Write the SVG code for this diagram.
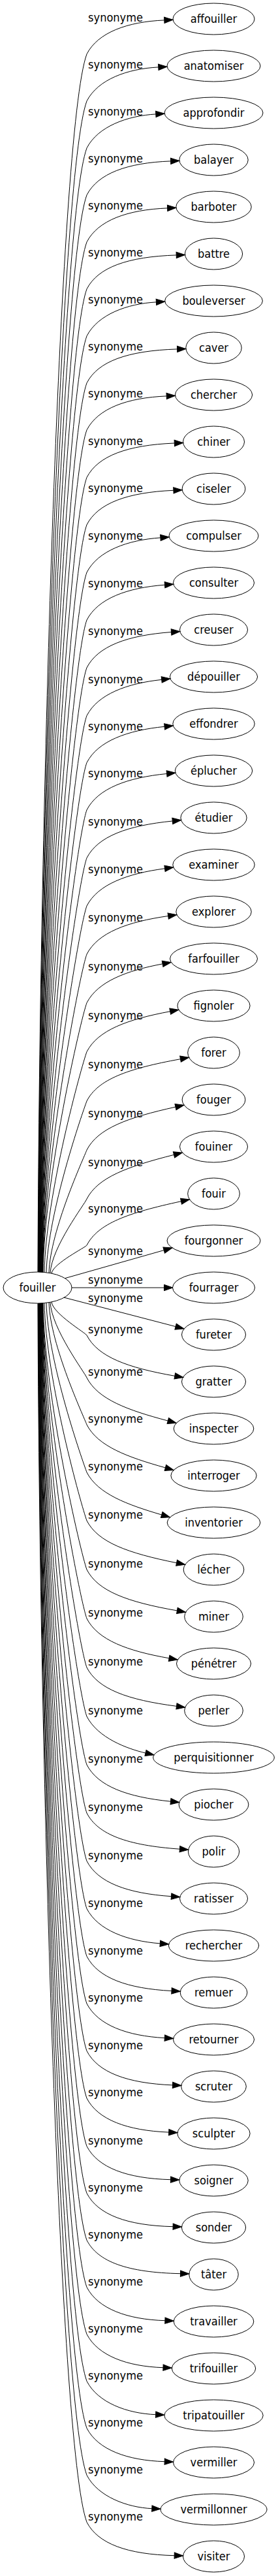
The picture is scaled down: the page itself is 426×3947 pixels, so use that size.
<svg xmlns="http://www.w3.org/2000/svg" width="426" height="3947" viewBox="0 0 426 3947">
<style>
.n ellipse{fill:none;stroke:#000;stroke-width:1}
.n text,.e text{font-family:"DejaVu Sans Condensed","DejaVu Sans",sans-serif;font-stretch:condensed;font-size:18px;fill:#000;text-anchor:middle}
.e path{fill:none;stroke:#000;stroke-width:1;marker-end:url(#arr)}
</style>
<defs>
<marker id="arr" markerUnits="userSpaceOnUse" markerWidth="14" markerHeight="10" viewBox="0 -5 14 10" refX="0" refY="0" orient="auto" overflow="visible">
<path d="M0,-4.67L13.3,0L0,4.67Z" fill="#000" stroke="#000" stroke-width="1"/>
</marker>
</defs>
<rect width="426" height="3947" fill="#fff"/>
<g id="connectors">
<g class="e"><path d="M58,1949C60,1295.8 90,199.9 133,82.8C150,49.8 195,33.3 251.8,30.9"/><text x="177" y="32.8">synonyme</text></g>
<g class="e"><path d="M58.4,1949C60.4,1321 91.6,267.4 133,154.8C150,121.8 195,105.3 242.8,102.9"/><text x="177" y="104.8">synonyme</text></g>
<g class="e"><path d="M58.8,1949C60.8,1346.2 93.3,334.8 133,226.8C150,193.8 195,177.3 238.8,174.9"/><text x="177" y="176.8">synonyme</text></g>
<g class="e"><path d="M59.2,1949C61.2,1371.4 95,402.3 133,298.8C150,265.8 195,249.3 261.6,246.9"/><text x="177" y="248.8">synonyme</text></g>
<g class="e"><path d="M59.6,1949C61.6,1396.6 96.6,469.8 133,370.8C150,337.8 195,321.3 256.6,318.9"/><text x="177" y="320.8">synonyme</text></g>
<g class="e"><path d="M60,1949C62,1421.8 98.3,537.3 133,442.8C150,409.8 195,393.3 270.2,390.9"/><text x="177" y="392.8">synonyme</text></g>
<g class="e"><path d="M60.4,1949C62.4,1447 99.9,604.8 133,514.8C150,481.8 195,465.3 239.4,462.9"/><text x="177" y="464.8">synonyme</text></g>
<g class="e"><path d="M60.8,1949.1C62.8,1472.2 101.6,672.3 133,586.8C150,553.8 195,537.3 271.6,534.9"/><text x="177" y="536.8">synonyme</text></g>
<g class="e"><path d="M61.2,1949.1C63.2,1497.4 103.3,739.7 133,658.8C150,625.8 195,609.3 255.2,606.9"/><text x="177" y="608.8">synonyme</text></g>
<g class="e"><path d="M61.6,1949.1C63.6,1522.9 104.9,807.9 133,731.5C150,698.5 195,682 267.3,679"/><text x="177" y="681.5">synonyme</text></g>
<g class="e"><path d="M62,1949.1C64,1548.3 106.6,875.8 133,804C150,771 195,754.5 265.9,751.3"/><text x="177" y="754">synonyme</text></g>
<g class="e"><path d="M62.4,1949.1C64.4,1573.9 108.3,944.3 133,877C150,844 195,827.5 245.9,823.9"/><text x="177" y="827">synonyme</text></g>
<g class="e"><path d="M62.8,1949.1C64.8,1599.4 110,1012.7 133,950C150,917 195,900.5 252.5,896.2"/><text x="177" y="900">synonyme</text></g>
<g class="e"><path d="M63.2,1949.1C65.2,1625 111.6,1081.1 133,1023C150,990 195,973.5 262.5,968.5"/><text x="177" y="973">synonyme</text></g>
<g class="e"><path d="M63.6,1949.2C65.6,1650.8 113.3,1150 133,1096.5C150,1063.5 195,1047 247.7,1041.4"/><text x="177" y="1046.5">synonyme</text></g>
<g class="e"><path d="M64,1949.2C66,1676 115,1217.5 133,1168.5C150,1135.5 195,1119 252.1,1113.3"/><text x="177" y="1118.5">synonyme</text></g>
<g class="e"><path d="M64.4,1949.2C66.4,1701.3 116.7,1285.4 133,1241C150,1208 195,1191.5 255.6,1185.5"/><text x="177" y="1191">synonyme</text></g>
<g class="e"><path d="M64.8,1949.2C66.8,1727.1 118.4,1354.3 133,1314.5C150,1281.5 195,1265 264.3,1258"/><text x="177" y="1264.5">synonyme</text></g>
<g class="e"><path d="M65.2,1949.3C67.2,1752.8 120.1,1423.2 133,1388C150,1355 195,1338.5 252.5,1330.8"/><text x="177" y="1338">synonyme</text></g>
<g class="e"><path d="M65.6,1949.3C67.6,1778.7 121.8,1492.6 133,1462C150,1429 195,1412.5 257.7,1403.5"/><text x="177" y="1412">synonyme</text></g>
<g class="e"><path d="M66,1949.3C68,1804.8 123.5,1562.4 133,1536.5C150,1503.5 195,1487 249.1,1476.9"/><text x="177" y="1486.5">synonyme</text></g>
<g class="e"><path d="M68,1949.5C70,1831.2 125.2,1632.7 133,1611.5C150,1578.5 195,1562 260.7,1549.7"/><text x="177" y="1561.5">synonyme</text></g>
<g class="e"><path d="M71,1949.8C73,1857.8 126.9,1703.5 133,1687C150,1654 195,1637.5 276.5,1622.7"/><text x="177" y="1637">synonyme</text></g>
<g class="e"><path d="M75,1950.4C77,1884.5 128.7,1773.8 133,1762C150,1729 195,1712.5 269,1696.1"/><text x="177" y="1712">synonyme</text></g>
<g class="e"><path d="M77,1950.7C79,1910.9 130.4,1844.1 133,1837C150,1804 195,1787.5 266.5,1769.4"/><text x="177" y="1787">synonyme</text></g>
<g class="e"><path d="M79,1951.1C81,1936 132,1910.7 133,1908C150,1875 195,1858.5 277.5,1840.7"/><text x="177" y="1858">synonyme</text></g>
<g class="e"><path d="M100,1958.5L251.2,1915.6"/><text x="177" y="1923">synonyme</text></g>
<g class="e"><path d="M110,1973L251.5,1973"/><text x="177" y="1967">synonyme</text></g>
<g class="e"><path d="M98,1988L269.1,2032.6"/><text x="177" y="1995">synonyme</text></g>
<g class="e"><path d="M79,1994.9C81,2012.8 131.8,2042.8 133,2046C150,2079 195,2095.5 267.8,2108.3"/><text x="177" y="2043">synonyme</text></g>
<g class="e"><path d="M77,1995.3C79,2035.8 130.3,2103.7 133,2111C150,2144 195,2160.5 257.3,2177"/><text x="177" y="2108">synonyme</text></g>
<g class="e"><path d="M75,1995.6C77,2061.2 128.7,2171.2 133,2183C150,2216 195,2232.5 253.4,2248.9"/><text x="177" y="2180">synonyme</text></g>
<g class="e"><path d="M71,1996.2C73,2087.1 127,2239.7 133,2256C150,2289 195,2305.5 247.7,2321"/><text x="177" y="2253">synonyme</text></g>
<g class="e"><path d="M68,1996.5C70,2113.2 125.3,2309.1 133,2330C150,2363 195,2379.5 270.6,2394.7"/><text x="177" y="2327">synonyme</text></g>
<g class="e"><path d="M66,1996.7C68,2139.6 123.6,2379.4 133,2405C150,2438 195,2454.5 271.4,2467.9"/><text x="177" y="2402">synonyme</text></g>
<g class="e"><path d="M65.6,1996.7C67.6,2165.9 121.9,2449.7 133,2480C150,2513 195,2529.5 259.1,2540.8"/><text x="177" y="2477">synonyme</text></g>
<g class="e"><path d="M65.2,1996.7C67.2,2192.1 120.1,2520 133,2555C150,2588 195,2604.5 270.5,2614.3"/><text x="177" y="2552">synonyme</text></g>
<g class="e"><path d="M64.8,1996.8C66.8,2218.4 118.4,2590.3 133,2630C150,2663 195,2679.5 223,2686"/><text x="177" y="2627">synonyme</text></g>
<g class="e"><path d="M64.4,1996.8C66.4,2244.3 116.7,2659.6 133,2704C150,2737 195,2753.5 261.5,2760.2"/><text x="177" y="2701">synonyme</text></g>
<g class="e"><path d="M64,1996.8C66,2270.2 115,2729 133,2778C150,2811 195,2827.5 275.4,2833.2"/><text x="177" y="2775">synonyme</text></g>
<g class="e"><path d="M63.6,1996.8C65.6,2295.9 113.3,2797.9 133,2851.5C150,2884.5 195,2901 262.5,2905.7"/><text x="177" y="2848.5">synonyme</text></g>
<g class="e"><path d="M63.2,1996.9C65.2,2321.6 111.6,2866.3 133,2924.5C150,2957.5 195,2974 245.3,2977.9"/><text x="177" y="2921.5">synonyme</text></g>
<g class="e"><path d="M62.8,1996.9C64.8,2347.1 109.9,2934.7 133,2997.5C150,3030.5 195,3047 263,3050.5"/><text x="177" y="2994.5">synonyme</text></g>
<g class="e"><path d="M62.4,1996.9C64.4,2372.5 108.3,3002.7 133,3070C150,3103 195,3119.5 252.3,3122.6"/><text x="177" y="3067">synonyme</text></g>
<g class="e"><path d="M62,1996.9C64,2397.9 106.6,3070.6 133,3142.5C150,3175.5 195,3192 264.5,3194.9"/><text x="177" y="3139.5">synonyme</text></g>
<g class="e"><path d="M61.6,1996.9C63.6,2423.2 104.9,3138.6 133,3215C150,3248 195,3264.5 258.7,3267.1"/><text x="177" y="3212">synonyme</text></g>
<g class="e"><path d="M61.2,1997C63.2,2449 103.2,3207.5 133,3288.5C150,3321.5 195,3338 261.5,3339.7"/><text x="177" y="3285.5">synonyme</text></g>
<g class="e"><path d="M60.8,1997C62.8,2474.2 101.6,3275 133,3360.5C150,3393.5 195,3410 265.1,3411.7"/><text x="177" y="3357.5">synonyme</text></g>
<g class="e"><path d="M60.4,1997C62.4,2499.4 99.9,3342.5 133,3432.5C150,3465.5 195,3482 276.5,3483.7"/><text x="177" y="3429.5">synonyme</text></g>
<g class="e"><path d="M60,1997C62,2524.6 98.2,3409.9 133,3504.5C150,3537.5 195,3554 252.9,3555.7"/><text x="177" y="3501.5">synonyme</text></g>
<g class="e"><path d="M59.6,1997C61.6,2549.8 96.6,3477.4 133,3576.5C150,3609.5 195,3626 250,3627.7"/><text x="177" y="3573.5">synonyme</text></g>
<g class="e"><path d="M59.2,1997C61.2,2575 94.9,3544.9 133,3648.5C150,3681.5 195,3698 238.6,3699.7"/><text x="177" y="3645.5">synonyme</text></g>
<g class="e"><path d="M58.8,1997C60.8,2600.2 93.3,3612.4 133,3720.5C150,3753.5 195,3770 252.2,3771.7"/><text x="177" y="3717.5">synonyme</text></g>
<g class="e"><path d="M58.4,1997C60.4,2625.4 91.6,3679.9 133,3792.5C150,3825.5 195,3842 232.8,3843.7"/><text x="177" y="3789.5">synonyme</text></g>
<g class="e"><path d="M58,1997C60,2650.6 89.9,3747.3 133,3864.5C150,3897.5 195,3914 267.2,3915.7"/><text x="177" y="3861.5">synonyme</text></g>
</g>
<g id="n-fouiller" class="n"><ellipse cx="57.5" cy="1973" rx="52.5" ry="24"/><text x="57.5" y="1979">fouiller</text></g>
<g id="n-affouiller" class="n"><ellipse cx="327.5" cy="29" rx="62.5" ry="24"/><text x="327.5" y="35">affouiller</text></g>
<g id="n-anatomiser" class="n"><ellipse cx="327.5" cy="101" rx="71.5" ry="24"/><text x="327.5" y="107">anatomiser</text></g>
<g id="n-approfondir" class="n"><ellipse cx="327.5" cy="173" rx="75.5" ry="24"/><text x="327.5" y="179">approfondir</text></g>
<g id="n-balayer" class="n"><ellipse cx="327.5" cy="245" rx="52.7" ry="24"/><text x="327.5" y="251">balayer</text></g>
<g id="n-barboter" class="n"><ellipse cx="327.5" cy="317" rx="57.7" ry="24"/><text x="327.5" y="323">barboter</text></g>
<g id="n-battre" class="n"><ellipse cx="327.5" cy="389" rx="44.1" ry="24"/><text x="327.5" y="395">battre</text></g>
<g id="n-bouleverser" class="n"><ellipse cx="327.5" cy="461" rx="74.9" ry="24"/><text x="327.5" y="467">bouleverser</text></g>
<g id="n-caver" class="n"><ellipse cx="327.5" cy="533" rx="42.7" ry="24"/><text x="327.5" y="539">caver</text></g>
<g id="n-chercher" class="n"><ellipse cx="327.5" cy="605" rx="59.1" ry="24"/><text x="327.5" y="611">chercher</text></g>
<g id="n-chiner" class="n"><ellipse cx="327.5" cy="677" rx="47" ry="24"/><text x="327.5" y="683">chiner</text></g>
<g id="n-ciseler" class="n"><ellipse cx="327.5" cy="749" rx="48.4" ry="24"/><text x="327.5" y="755">ciseler</text></g>
<g id="n-compulser" class="n"><ellipse cx="327.5" cy="821" rx="68.5" ry="24"/><text x="327.5" y="827">compulser</text></g>
<g id="n-consulter" class="n"><ellipse cx="327.5" cy="893" rx="62" ry="24"/><text x="327.5" y="899">consulter</text></g>
<g id="n-creuser" class="n"><ellipse cx="327.5" cy="965" rx="52" ry="24"/><text x="327.5" y="971">creuser</text></g>
<g id="n-depouiller" class="n"><ellipse cx="327.5" cy="1037" rx="67.1" ry="24"/><text x="327.5" y="1043">dépouiller</text></g>
<g id="n-effondrer" class="n"><ellipse cx="327.5" cy="1109" rx="62.7" ry="24"/><text x="327.5" y="1115">effondrer</text></g>
<g id="n-eplucher" class="n"><ellipse cx="327.5" cy="1181" rx="59.2" ry="24"/><text x="327.5" y="1187">éplucher</text></g>
<g id="n-etudier" class="n"><ellipse cx="327.5" cy="1253" rx="50.6" ry="24"/><text x="327.5" y="1259">étudier</text></g>
<g id="n-examiner" class="n"><ellipse cx="327.5" cy="1325" rx="62.7" ry="24"/><text x="327.5" y="1331">examiner</text></g>
<g id="n-explorer" class="n"><ellipse cx="327.5" cy="1397" rx="57.7" ry="24"/><text x="327.5" y="1403">explorer</text></g>
<g id="n-farfouiller" class="n"><ellipse cx="327.5" cy="1469" rx="67" ry="24"/><text x="327.5" y="1475">farfouiller</text></g>
<g id="n-fignoler" class="n"><ellipse cx="327.5" cy="1541" rx="55.6" ry="24"/><text x="327.5" y="1547">fignoler</text></g>
<g id="n-forer" class="n"><ellipse cx="327.5" cy="1613" rx="39.8" ry="24"/><text x="327.5" y="1619">forer</text></g>
<g id="n-fouger" class="n"><ellipse cx="327.5" cy="1685" rx="48.4" ry="24"/><text x="327.5" y="1691">fouger</text></g>
<g id="n-fouiner" class="n"><ellipse cx="327.5" cy="1757" rx="52" ry="24"/><text x="327.5" y="1763">fouiner</text></g>
<g id="n-fouir" class="n"><ellipse cx="327.5" cy="1829" rx="39.8" ry="24"/><text x="327.5" y="1835">fouir</text></g>
<g id="n-fourgonner" class="n"><ellipse cx="327.5" cy="1901" rx="71.5" ry="24"/><text x="327.5" y="1907">fourgonner</text></g>
<g id="n-fourrager" class="n"><ellipse cx="327.5" cy="1973" rx="63" ry="24"/><text x="327.5" y="1979">fourrager</text></g>
<g id="n-fureter" class="n"><ellipse cx="327.5" cy="2045" rx="49" ry="24"/><text x="327.5" y="2051">fureter</text></g>
<g id="n-gratter" class="n"><ellipse cx="327.5" cy="2117" rx="49" ry="24"/><text x="327.5" y="2123">gratter</text></g>
<g id="n-inspecter" class="n"><ellipse cx="327.5" cy="2189" rx="61.3" ry="24"/><text x="327.5" y="2195">inspecter</text></g>
<g id="n-interroger" class="n"><ellipse cx="327.5" cy="2261" rx="65.6" ry="24"/><text x="327.5" y="2267">interroger</text></g>
<g id="n-inventorier" class="n"><ellipse cx="327.5" cy="2333" rx="71.3" ry="24"/><text x="327.5" y="2339">inventorier</text></g>
<g id="n-lecher" class="n"><ellipse cx="327.5" cy="2405" rx="46.3" ry="24"/><text x="327.5" y="2411">lécher</text></g>
<g id="n-miner" class="n"><ellipse cx="327.5" cy="2477" rx="44.8" ry="24"/><text x="327.5" y="2483">miner</text></g>
<g id="n-penetrer" class="n"><ellipse cx="327.5" cy="2549" rx="57" ry="24"/><text x="327.5" y="2555">pénétrer</text></g>
<g id="n-perler" class="n"><ellipse cx="327.5" cy="2621" rx="44.8" ry="24"/><text x="327.5" y="2627">perler</text></g>
<g id="n-perquisitionner" class="n"><ellipse cx="327.5" cy="2693" rx="92.8" ry="24"/><text x="327.5" y="2699">perquisitionner</text></g>
<g id="n-piocher" class="n"><ellipse cx="327.5" cy="2765" rx="53.4" ry="24"/><text x="327.5" y="2771">piocher</text></g>
<g id="n-polir" class="n"><ellipse cx="327.5" cy="2837" rx="39.1" ry="24"/><text x="327.5" y="2843">polir</text></g>
<g id="n-ratisser" class="n"><ellipse cx="327.5" cy="2909" rx="52" ry="24"/><text x="327.5" y="2915">ratisser</text></g>
<g id="n-rechercher" class="n"><ellipse cx="327.5" cy="2981" rx="69.2" ry="24"/><text x="327.5" y="2987">rechercher</text></g>
<g id="n-remuer" class="n"><ellipse cx="327.5" cy="3053" rx="51.3" ry="24"/><text x="327.5" y="3059">remuer</text></g>
<g id="n-retourner" class="n"><ellipse cx="327.5" cy="3125" rx="62" ry="24"/><text x="327.5" y="3131">retourner</text></g>
<g id="n-scruter" class="n"><ellipse cx="327.5" cy="3197" rx="49.8" ry="24"/><text x="327.5" y="3203">scruter</text></g>
<g id="n-sculpter" class="n"><ellipse cx="327.5" cy="3269" rx="55.6" ry="24"/><text x="327.5" y="3275">sculpter</text></g>
<g id="n-soigner" class="n"><ellipse cx="327.5" cy="3341" rx="52.7" ry="24"/><text x="327.5" y="3347">soigner</text></g>
<g id="n-sonder" class="n"><ellipse cx="327.5" cy="3413" rx="49.1" ry="24"/><text x="327.5" y="3419">sonder</text></g>
<g id="n-tater" class="n"><ellipse cx="327.5" cy="3485" rx="37.7" ry="24"/><text x="327.5" y="3491">tâter</text></g>
<g id="n-travailler" class="n"><ellipse cx="327.5" cy="3557" rx="61.3" ry="24"/><text x="327.5" y="3563">travailler</text></g>
<g id="n-trifouiller" class="n"><ellipse cx="327.5" cy="3629" rx="64.2" ry="24"/><text x="327.5" y="3635">trifouiller</text></g>
<g id="n-tripatouiller" class="n"><ellipse cx="327.5" cy="3701" rx="75.7" ry="24"/><text x="327.5" y="3707">tripatouiller</text></g>
<g id="n-vermiller" class="n"><ellipse cx="327.5" cy="3773" rx="62" ry="24"/><text x="327.5" y="3779">vermiller</text></g>
<g id="n-vermillonner" class="n"><ellipse cx="327.5" cy="3845" rx="81.5" ry="24"/><text x="327.5" y="3851">vermillonner</text></g>
<g id="n-visiter" class="n"><ellipse cx="327.5" cy="3917" rx="47" ry="24"/><text x="327.5" y="3923">visiter</text></g>
</svg>
